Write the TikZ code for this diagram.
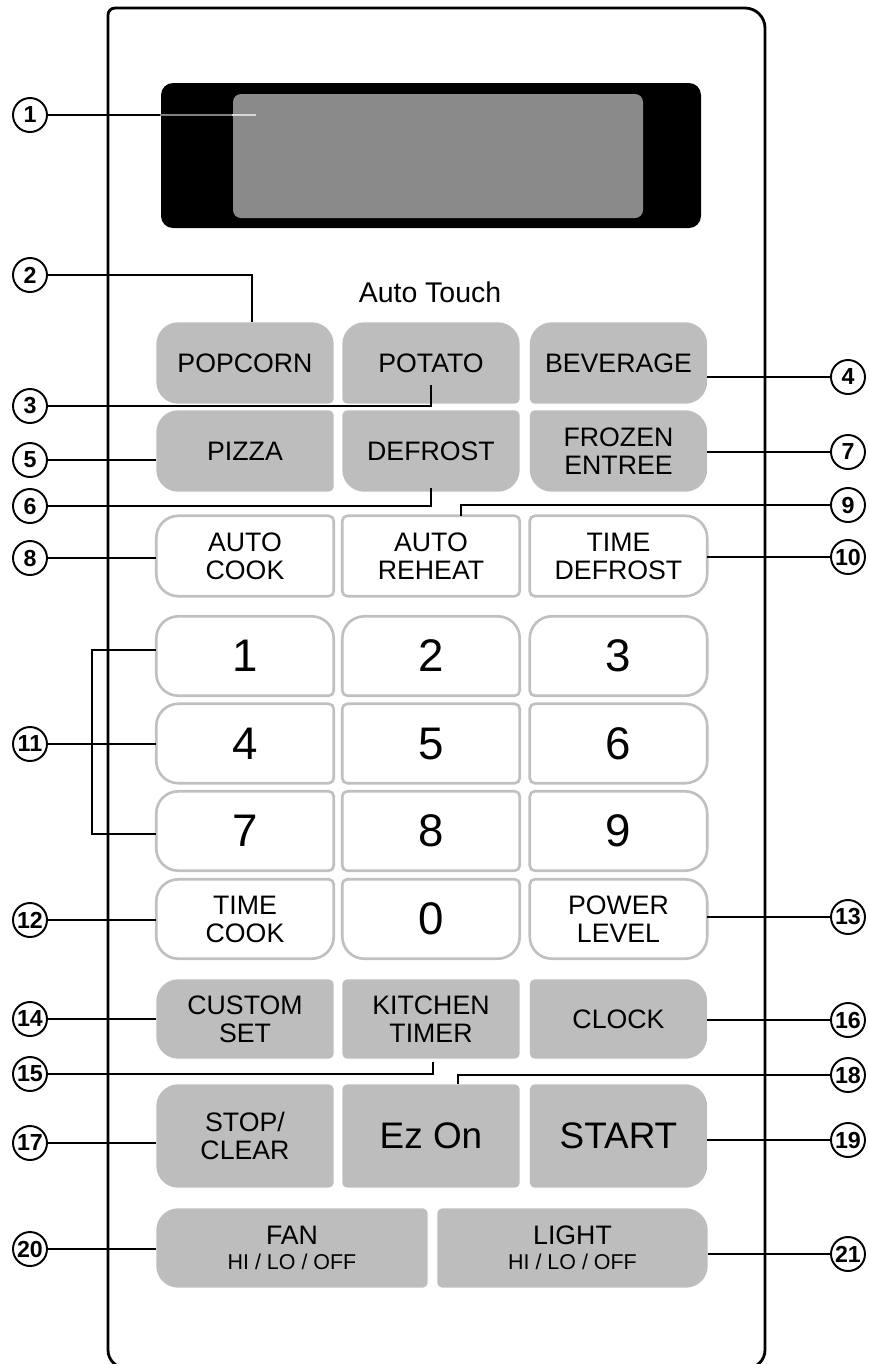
\documentclass[tikz,border=0pt]{standalone}
\usepackage{fontspec}
\setmainfont{Liberation Sans}
\usetikzlibrary{calc,backgrounds}

\definecolor{keyfill}{HTML}{BDBDBD}
\definecolor{keyrim}{HTML}{C0C0C0}
\definecolor{lcdfill}{HTML}{8A8A8A}

% corner radii of the keys
\newcommand{\rb}{0.22}
\newcommand{\rs}{0.05}
% key outline with its own radius at each corner (tl, tr, br, bl)
\newcommand{\keyframe}[6]{%
  \path[#6] ($(#1.north west)+(#2,0)$) -- ($(#1.north east)-(#3,0)$)
    arc[start angle=90,end angle=0,radius=#3]
    -- ($(#1.south east)+(0,#4)$) arc[start angle=0,end angle=-90,radius=#4]
    -- ($(#1.south west)+(#5,0)$) arc[start angle=-90,end angle=-180,radius=#5]
    -- ($(#1.north west)-(0,#2)$) arc[start angle=180,end angle=90,radius=#2]
    -- cycle;}

\begin{document}
\begin{tikzpicture}[
    callout/.style={circle,draw,line width=0.55pt,inner sep=0pt,minimum size=0.34cm,
      font=\fontsize{6.6}{7}\selectfont\bfseries},
    pad key/.style={rectangle,inner sep=0pt,minimum width=1.76cm,minimum height=0.80cm,
      align=center,font=\fontsize{7.6}{8}\selectfont},
    digit key/.style={pad key,minimum height=0.78cm,font=\fontsize{13}{15}\selectfont},
    gray key/.style={fill=keyfill},
    rim key/.style={draw=keyrim,line width=0.75pt,fill=white},
    leader/.style={line width=0.5pt}
  ]
  \useasboundingbox (0,0) rectangle (8.69,-13.64);

  % panel
  \draw[line width=0.8pt] (1.08,-13.50) -- (1.08,-0.15) arc[start angle=180,end angle=90,radius=0.07]
    -- (7.45,-0.08) arc[start angle=90,end angle=0,radius=0.2]
    -- (7.65,-13.50) arc[start angle=0,end angle=-90,radius=0.18]
    -- (1.26,-13.68) arc[start angle=270,end angle=180,radius=0.18] -- cycle;

  % display
  \node[fill=black,rounded corners=0.12cm,inner sep=0pt,minimum width=5.40cm,minimum height=1.45cm] (lcdframe) at (4.31,-1.555) {};
  \node[fill=lcdfill,rounded corners=0.08cm,inner sep=0pt,minimum width=4.10cm,minimum height=1.24cm] (lcd) at (4.38,-1.56) {};
  \coordinate (pin1) at (2.56,-1.15);

  \node[font=\fontsize{8.1}{10}\selectfont,anchor=base] (autotouch) at (4.30,-3.02) {Auto Touch};

  % keys
  \node[pad key] (popcorn) at (2.45,-3.63) {POPCORN};
  \node[pad key] (potato) at (4.31,-3.63) {POTATO};
  \node[pad key] (beverage) at (6.185,-3.63) {BEVERAGE};
  \node[pad key] (pizza) at (2.45,-4.51) {PIZZA};
  \node[pad key] (defrost) at (4.31,-4.51) {DEFROST};
  \node[pad key] (frozen) at (6.185,-4.51) {FROZEN\\ENTREE};

  \node[pad key,minimum height=0.79cm] (autocook) at (2.45,-5.56) {AUTO\\COOK};
  \node[pad key,minimum height=0.79cm] (autoreheat) at (4.31,-5.56) {AUTO\\REHEAT};
  \node[pad key,minimum height=0.79cm] (timedefrost) at (6.185,-5.56) {TIME\\DEFROST};

  \foreach \n/\x/\y in {1/2.45/6.56, 2/4.31/6.56, 3/6.185/6.56,
                        4/2.45/7.435, 5/4.31/7.435, 6/6.185/7.435,
                        7/2.45/8.31, 8/4.31/8.31, 9/6.185/8.31}
    \node[digit key] (k\n) at (\x,-\y) {\n};
  \node[pad key,minimum height=0.78cm] (timecook) at (2.45,-9.19) {TIME\\COOK};
  \node[digit key] (k0) at (4.31,-9.19) {0};
  \node[pad key,minimum height=0.78cm] (powerlevel) at (6.185,-9.19) {POWER\\LEVEL};

  \node[pad key,minimum height=0.78cm] (custom) at (2.45,-10.19) {CUSTOM\\SET};
  \node[pad key,minimum height=0.78cm] (kitchen) at (4.31,-10.19) {KITCHEN\\TIMER};
  \node[pad key,minimum height=0.78cm] (clock) at (6.185,-10.19) {CLOCK};
  \node[pad key,minimum height=1.02cm] (stop) at (2.45,-11.36) {STOP/\\CLEAR};
  \node[pad key,minimum height=1.02cm,font=\fontsize{10.5}{12}\selectfont] (ezon) at (4.31,-11.36) {Ez On};
  \node[pad key,minimum height=1.02cm,font=\fontsize{10.5}{12}\selectfont] (start) at (6.185,-11.36) {START};

  \node[pad key,minimum width=2.70cm,minimum height=0.78cm,font=\fontsize{7.6}{7.1}\selectfont] (fan) at (2.92,-12.48)
    {FAN\\\fontsize{6.1}{7.1}\selectfont HI / LO / OFF};
  \node[pad key,minimum width=2.69cm,minimum height=0.78cm,font=\fontsize{7.6}{7.1}\selectfont] (light) at (5.725,-12.48)
    {LIGHT\\\fontsize{6.1}{7.1}\selectfont HI / LO / OFF};

  % callouts
  \foreach \n/\y in {1/1.15, 2/2.75, 3/4.06, 5/4.60, 6/5.06, 8/5.58, 11/7.44,
                     12/9.20, 14/10.19, 15/10.74, 17/11.43, 20/12.49}
    \node[callout] (c\n) at (0.30,-\y) {\n};
  \foreach \n/\y in {4/3.77, 7/4.52, 9/5.05, 10/5.57, 13/9.17, 16/10.20, 18/10.75,
                     19/11.40, 21/12.54}
    \node[callout] (c\n) at (8.48,-\y) {\n};

  \coordinate (pin3) at (4.31,-3.85);
  \coordinate (pin6) at (4.31,-4.88);
  \coordinate (bracket) at (0.92,-7.44);

  \draw[leader] (c1) -- (c1 -| lcdframe.west);
  \draw[leader,gray] (c1 -| lcdframe.west) -- (c1 -| lcd.west);
  \draw[leader,white!85!black] (c1 -| lcd.west) -- (pin1);
  \draw[leader] (c2) -| ([xshift=0.07cm]popcorn.north);
  \draw[leader] (c3) -| (pin3);
  \draw[leader] (c4) -- (c4 -| beverage.east);
  \draw[leader] (c5) -- (c5 -| pizza.west);
  \draw[leader] (c6) -| (pin6);
  \draw[leader] (c7) -- (c7 -| frozen.east);
  \draw[leader] (c8) -- (c8 -| autocook.west);
  \draw[leader] (c9) -| ([xshift=0.30cm]autoreheat.north);
  \draw[leader] (c10) -- (c10 -| timedefrost.east);
  \draw[leader] (c11) -- (c11 -| k4.west);
  \draw[leader] ([yshift=0.06cm]k1.west) -| (bracket) |- ([yshift=-0.03cm]k7.west);
  \draw[leader] (c12) -- (c12 -| timecook.west);
  \draw[leader] (c13) -- (c13 -| powerlevel.east);
  \draw[leader] (c14) -- (c14 -| custom.west);
  \draw[leader] (c15) -| ([xshift=0.02cm,yshift=-0.03cm]kitchen.south);
  \draw[leader] (c16) -- (c16 -| clock.east);
  \draw[leader] (c17) -- (c17 -| stop.west);
  \draw[leader] (c18) -| ([xshift=0.27cm]ezon.north);
  \draw[leader] (c19) -- (c19 -| start.east);
  \draw[leader] (c20) -- (c20 -| fan.west);
  \draw[leader] (c21) -- (c21 -| light.east);

  \begin{pgfonlayer}{background}
    \foreach \k/\a/\b/\c/\d in {popcorn/\rb/\rb/\rs/\rb, potato/\rb/\rb/\rs/\rs,
        beverage/\rb/\rb/\rb/\rs, pizza/\rb/\rs/\rs/\rb, defrost/\rs/\rs/\rb/\rb,
        frozen/\rs/\rb/\rb/\rb, custom/\rb/\rs/\rs/\rb, kitchen/\rs/\rs/\rs/\rs,
        clock/\rs/\rb/\rb/\rs, stop/\rb/\rs/\rs/\rb, ezon/\rs/\rs/\rs/\rs,
        start/\rs/\rb/\rb/\rs, fan/\rb/\rs/\rs/\rb, light/\rs/\rb/\rb/\rs}
      \keyframe{\k}{\a}{\b}{\c}{\d}{gray key};
    \foreach \k/\a/\b/\c/\d in {autocook/\rb/\rs/\rs/\rb, autoreheat/\rs/\rs/\rs/\rs,
        timedefrost/\rs/\rb/\rb/\rs, k1/\rb/\rb/\rs/\rb, k2/\rb/\rb/\rs/\rs,
        k3/\rb/\rb/\rb/\rs, k4/\rb/\rs/\rs/\rb, k5/\rs/\rs/\rs/\rs, k6/\rs/\rb/\rb/\rs,
        k7/\rb/\rs/\rs/\rb, k8/\rs/\rs/\rs/\rs, k9/\rs/\rb/\rb/\rs,
        timecook/\rb/\rs/\rb/\rb, k0/\rs/\rs/\rb/\rb, powerlevel/\rs/\rb/\rb/\rb}
      \keyframe{\k}{\a}{\b}{\c}{\d}{rim key};
  \end{pgfonlayer}
\end{tikzpicture}
\end{document}
